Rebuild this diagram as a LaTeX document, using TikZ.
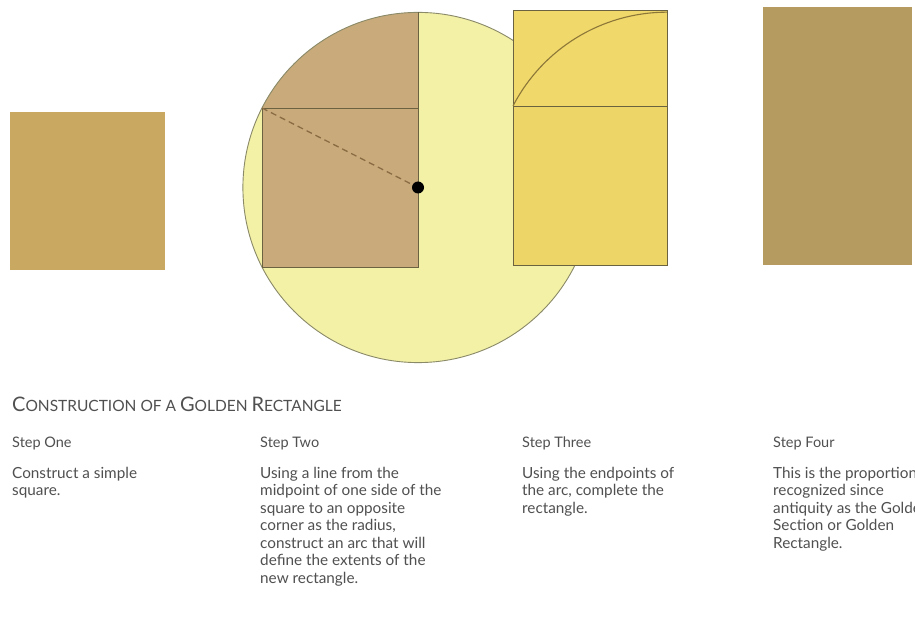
\documentclass[tikz,border=0pt]{standalone}
\usepackage{fontspec}
\setmainfont{Lato}
\definecolor{stepone}{HTML}{C9A861}
\definecolor{twotan}{HTML}{C8AA7B}
\definecolor{circfill}{HTML}{F3F1A5}
\definecolor{circline}{HTML}{8A8968}
\definecolor{edgeline}{HTML}{6A6240}
\definecolor{dashcol}{HTML}{8A6C44}
\definecolor{threeup}{HTML}{F0D86A}
\definecolor{threelow}{HTML}{EDD667}
\definecolor{arccol}{HTML}{8C7638}
\definecolor{stepfour}{HTML}{B69B61}
\definecolor{txtcol}{HTML}{505050}
\tikzset{
  bodytext/.style={anchor=base west, inner sep=0pt, text=txtcol, font=\fontsize{15.3}{17}\selectfont},
  headtext/.style={anchor=base west, inner sep=0pt, text=txtcol, font=\fontsize{14.5}{17}\selectfont},
  edge/.style={draw=edgeline, line width=0.8pt},
}
\begin{document}
\begin{tikzpicture}[x=1pt,y=-1pt]
\useasboundingbox (0,0) rectangle (915,617);
\fill[white] (0,0) rectangle (915,617);
% step one
\fill[stepone] (10,112) rectangle (165,270);
% step two
\coordinate (ctr) at (418,187.5);
\coordinate (tl) at (262,108);
\fill[circfill] (ctr) circle (175.1);
\begin{scope}
  \clip (0,0) rectangle (418,108);
  \fill[twotan] (ctr) circle (175.1);
\end{scope}
\draw[circline, line width=0.9pt] (ctr) circle (175.1);
\fill[twotan] (262,108) rectangle (418,267);
\draw[edge] (262,108) rectangle (418,267);
\draw[edge] (418,12.4) -- (418,108);
\draw[dashcol, line width=1.3pt, dash pattern=on 6pt off 4pt] (tl) -- (ctr);
\fill[black] (ctr) circle (6);
% step three
\filldraw[fill=threeup, edge] (513,10) rectangle (667,106);
\filldraw[fill=threelow, edge] (513,106) rectangle (667,265);
\draw[arccol, line width=1.1pt] (513,106) arc[start angle=207.3, end angle=270, radius=173.3];
% step four
\fill[stepfour] (763,7) rectangle (912,265);
% texts
\node[anchor=base west, inner sep=0pt, text=txtcol] (title) at (12,411)
 {\fontsize{20}{20}\selectfont C\fontsize{15.5}{15.5}\selectfont ONSTRUCTION OF A \fontsize{20}{20}\selectfont G\fontsize{15.5}{15.5}\selectfont OLDEN \fontsize{20}{20}\selectfont R\fontsize{15.5}{15.5}\selectfont ECTANGLE};
\node[headtext] (h1) at (12,447) {Step One};
\node[headtext] (h2) at (260,447) {Step Two};
\node[headtext] (h3) at (522,447) {Step Three};
\node[headtext] (h4) at (773,447) {Step Four};
\foreach \t [count=\i from 0] in {Construct a simple, square.}
  \node[bodytext] (a\i) at (12,478+17.5*\i) {\t};
\foreach \t [count=\i from 0] in {Using a line from the, midpoint of one side of the, square to an opposite, {corner as the radius,}, construct an arc that will, define the extents of the, new rectangle.}
  \node[bodytext] (b\i) at (260,478+17.5*\i) {\t};
\foreach \t [count=\i from 0] in {Using the endpoints of, {the arc, complete the}, rectangle.}
  \node[bodytext] (c\i) at (522,478+17.5*\i) {\t};
\foreach \t [count=\i from 0] in {This is the proportion, recognized since, antiquity as the Golden, Section or Golden, Rectangle.}
  \node[bodytext] (d\i) at (773,478+17.5*\i) {\t};
\end{tikzpicture}
\end{document}
